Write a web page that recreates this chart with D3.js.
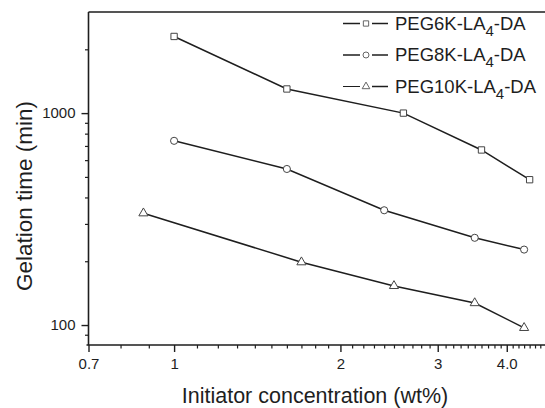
<!DOCTYPE html>
<html>
<head>
<meta charset="utf-8">
<script src="https://cdn.jsdelivr.net/npm/d3@7"></script>
<style>
  body { margin: 0; background: #fff; }
  svg { display: block; font-family: "Liberation Sans", Arial, sans-serif; }
</style>
</head>
<body>
<svg width="545" height="408"></svg>
<script>
// values
const conc6K = [1.0, 1.6, 2.6, 3.6, 4.4]
const time6K = [2300, 1300, 1000, 670, 485]
const conc8K = [1.0, 1.6, 2.4, 3.5, 4.3]
const time8K = [740, 545, 348, 258, 227]
const conc10K = [0.88, 1.7, 2.5, 3.5, 4.3]
const time10K = [337, 198, 153, 127, 97]
const seriesNames = ["PEG6K", "PEG8K", "PEG10K"]
const xTickValues = [0.7, 1, 2, 3, 4]
const xTickLabels = ["0.7", "1", "2", "3", "4.0"]
const yTickValues = [100, 1000]

const svg = d3.select("svg")
const plotL = 88.5, plotR = 548, plotT = 12, plotB = 345
const ink = "#1e1e1e"

const xScale = d3.scaleLog().domain([0.7, 4.75]).range([plotL, plotR])
const yScale = d3.scaleLog().domain([80.5, 3000]).range([plotB, plotT])

// minor ticks
const xMinor = d3.range(0.8, 1, 0.1).concat(d3.range(1.1, 2, 0.1), d3.range(2.1, 3, 0.1), d3.range(3.1, 4, 0.1), d3.range(4.1, 4.75, 0.1))
const yMinor = [90].concat(d3.range(200, 1000, 100), [2000])

svg.append("g")
  .attr("transform", `translate(0,${plotB})`)
  .call(d3.axisBottom(xScale).tickValues(xMinor).tickSize(3.5).tickFormat(""))
  .call(g => g.select(".domain").remove())
  .selectAll("line").attr("stroke", ink).attr("stroke-width", 1.2)

svg.append("g")
  .attr("transform", `translate(${plotL},0)`)
  .call(d3.axisLeft(yScale).tickValues(yMinor).tickSize(3.5).tickFormat(""))
  .call(g => g.select(".domain").remove())
  .selectAll("line").attr("stroke", ink).attr("stroke-width", 1.2)

const xAxis = svg.append("g")
  .attr("transform", `translate(0,${plotB})`)
  .call(d3.axisBottom(xScale).tickValues(xTickValues).tickSize(7).tickPadding(6)
    .tickFormat((d, i) => xTickLabels[i]))
xAxis.select(".domain").remove()
xAxis.selectAll("line").attr("stroke", ink).attr("stroke-width", 1.4)
xAxis.selectAll("text").attr("font-size", 15).attr("fill", ink).attr("font-family", null)

const yAxis = svg.append("g")
  .attr("transform", `translate(${plotL},0)`)
  .call(d3.axisLeft(yScale).tickValues(yTickValues).tickSize(7).tickPadding(6)
    .tickFormat(d3.format("d")))
yAxis.select(".domain").remove()
yAxis.selectAll("line").attr("stroke", ink).attr("stroke-width", 1.4)
yAxis.selectAll("text").attr("font-size", 15).attr("fill", ink).attr("font-family", null)

// frame
svg.append("path")
  .attr("d", `M${plotL},${plotT}H${plotR}V${plotB}H${plotL - 2}M${plotL},${plotB}V${plotT}`)
  .attr("fill", "none")
  .attr("stroke", ink)
  .attr("stroke-width", 1.6)

const series = [
  { name: seriesNames[0], xs: conc6K, ys: time6K, shape: d3.symbolSquare, size: 40 },
  { name: seriesNames[1], xs: conc8K, ys: time8K, shape: d3.symbolCircle, size: 40 },
  { name: seriesNames[2], xs: conc10K, ys: time10K, shape: d3.symbolTriangle, size: 36 }
]

const line = d3.line()
  .x(d => xScale(d[0]))
  .y(d => yScale(d[1]))

series.forEach(s => {
  const pts = s.xs.map((x, i) => [x, s.ys[i]])
  svg.append("path")
    .attr("d", line(pts))
    .attr("fill", "none")
    .attr("stroke", ink)
    .attr("stroke-width", 1.5)
  svg.selectAll(null)
    .data(pts)
    .enter()
    .append("path")
    .attr("d", d3.symbol().type(s.shape).size(s.size))
    .attr("transform", d => `translate(${xScale(d[0])},${yScale(d[1])})`)
    .attr("fill", "#fff")
    .attr("stroke", "#444")
    .attr("stroke-width", 1)
})

// legend
const legend = svg.append("g")
series.forEach((s, i) => {
  const y = 23.5 + i * 31.5
  const row = legend.append("g").attr("transform", `translate(0,${y})`)
  row.append("line").attr("x1", 343).attr("x2", 360).attr("y1", 0).attr("y2", 0)
    .attr("stroke", ink).attr("stroke-width", i == 2 ? 1 : 1.5)
  row.append("line").attr("x1", 372).attr("x2", 388).attr("y1", 0).attr("y2", 0)
    .attr("stroke", ink).attr("stroke-width", 1.5)
  row.append("path")
    .attr("d", d3.symbol().type(s.shape).size(s.size * 0.7))
    .attr("transform", `translate(366,0)`)
    .attr("fill", "#fff")
    .attr("stroke", "#555")
    .attr("stroke-width", 0.9)
  const t = row.append("text")
    .attr("x", 395)
    .attr("y", 6.3)
    .attr("font-size", 18.5)
    .attr("fill", ink)
  t.append("tspan").text(s.name + "-LA")
  t.append("tspan").attr("font-size", 15).attr("dy", 6).text("4")
  t.append("tspan").attr("dy", -6).text("-DA")
})

// axis titles
svg.append("text")
  .attr("x", 315)
  .attr("y", 403)
  .attr("text-anchor", "middle")
  .attr("font-size", 21.5)
  .attr("fill", ink)
  .text("Initiator concentration (wt%)")

svg.append("text")
  .attr("transform", "translate(31.5,196) rotate(-90)")
  .attr("text-anchor", "middle")
  .attr("font-size", 22.5)
  .attr("fill", ink)
  .text("Gelation time (min)")
</script>
</body>
</html>
